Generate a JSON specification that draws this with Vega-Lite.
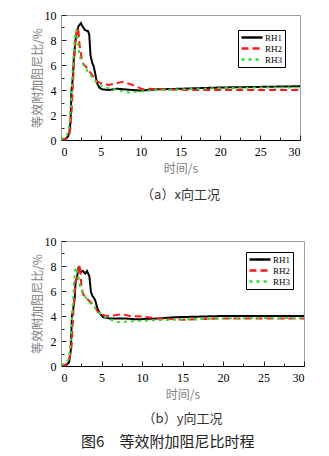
{
  "$schema": "https://vega.github.io/schema/vega-lite/v6.json",
  "padding": {"left": 30, "top": 8, "right": 4, "bottom": 8},
  "background": "white",
  "datasets": {
    "d": [
      {"dir":"x","s":"RH1","t":0,"v":0},{"dir":"x","s":"RH1","t":0.5,"v":0.05},{"dir":"x","s":"RH1","t":0.9,"v":0.3},{"dir":"x","s":"RH1","t":1.05,"v":0.6},{"dir":"x","s":"RH1","t":1.2,"v":1.5},{"dir":"x","s":"RH1","t":1.3,"v":3.8},{"dir":"x","s":"RH1","t":1.5,"v":5.1},{"dir":"x","s":"RH1","t":1.6,"v":6.4},{"dir":"x","s":"RH1","t":1.8,"v":7.9},{"dir":"x","s":"RH1","t":2.0,"v":8.7},{"dir":"x","s":"RH1","t":2.2,"v":9.1},{"dir":"x","s":"RH1","t":2.5,"v":9.35},{"dir":"x","s":"RH1","t":2.7,"v":9.1},{"dir":"x","s":"RH1","t":3.0,"v":8.8},{"dir":"x","s":"RH1","t":3.4,"v":8.7},{"dir":"x","s":"RH1","t":3.55,"v":8.4},{"dir":"x","s":"RH1","t":3.7,"v":6.8},{"dir":"x","s":"RH1","t":3.9,"v":6.2},{"dir":"x","s":"RH1","t":4.1,"v":5.9},{"dir":"x","s":"RH1","t":4.3,"v":5.3},{"dir":"x","s":"RH1","t":4.5,"v":4.6},{"dir":"x","s":"RH1","t":4.8,"v":4.2},{"dir":"x","s":"RH1","t":5.2,"v":4.05},{"dir":"x","s":"RH1","t":6,"v":4.0},{"dir":"x","s":"RH1","t":7,"v":4.1},{"dir":"x","s":"RH1","t":8,"v":4.05},{"dir":"x","s":"RH1","t":9,"v":4.0},{"dir":"x","s":"RH1","t":10,"v":3.95},{"dir":"x","s":"RH1","t":12,"v":4.05},{"dir":"x","s":"RH1","t":15,"v":4.1},{"dir":"x","s":"RH1","t":20,"v":4.2},{"dir":"x","s":"RH1","t":25,"v":4.25},{"dir":"x","s":"RH1","t":30,"v":4.3},

      {"dir":"x","s":"RH2","t":0,"v":0},{"dir":"x","s":"RH2","t":0.6,"v":0.05},{"dir":"x","s":"RH2","t":1.0,"v":0.4},{"dir":"x","s":"RH2","t":1.2,"v":1.0},{"dir":"x","s":"RH2","t":1.35,"v":2.5},{"dir":"x","s":"RH2","t":1.5,"v":4.5},{"dir":"x","s":"RH2","t":1.7,"v":7.0},{"dir":"x","s":"RH2","t":1.9,"v":8.4},{"dir":"x","s":"RH2","t":2.15,"v":9.0},{"dir":"x","s":"RH2","t":2.35,"v":7.5},{"dir":"x","s":"RH2","t":2.65,"v":6.3},{"dir":"x","s":"RH2","t":2.9,"v":6.0},{"dir":"x","s":"RH2","t":3.3,"v":5.75},{"dir":"x","s":"RH2","t":3.9,"v":5.2},{"dir":"x","s":"RH2","t":4.5,"v":4.7},{"dir":"x","s":"RH2","t":5.0,"v":4.55},{"dir":"x","s":"RH2","t":6.0,"v":4.4},{"dir":"x","s":"RH2","t":7.0,"v":4.55},{"dir":"x","s":"RH2","t":7.8,"v":4.65},{"dir":"x","s":"RH2","t":9.0,"v":4.4},{"dir":"x","s":"RH2","t":10.3,"v":4.05},{"dir":"x","s":"RH2","t":11,"v":4.1},{"dir":"x","s":"RH2","t":13,"v":4.05},{"dir":"x","s":"RH2","t":16,"v":4.0},{"dir":"x","s":"RH2","t":20,"v":4.0},{"dir":"x","s":"RH2","t":25,"v":4.0},{"dir":"x","s":"RH2","t":30,"v":4.0},

      {"dir":"x","s":"RH3","t":0,"v":0.1},{"dir":"x","s":"RH3","t":0.5,"v":0.2},{"dir":"x","s":"RH3","t":0.9,"v":0.6},{"dir":"x","s":"RH3","t":1.1,"v":1.5},{"dir":"x","s":"RH3","t":1.3,"v":3.5},{"dir":"x","s":"RH3","t":1.5,"v":6.0},{"dir":"x","s":"RH3","t":1.7,"v":8.0},{"dir":"x","s":"RH3","t":1.9,"v":8.8},{"dir":"x","s":"RH3","t":2.15,"v":7.75},{"dir":"x","s":"RH3","t":2.33,"v":6.7},{"dir":"x","s":"RH3","t":2.45,"v":6.5},{"dir":"x","s":"RH3","t":2.9,"v":5.9},{"dir":"x","s":"RH3","t":3.5,"v":5.35},{"dir":"x","s":"RH3","t":4.15,"v":4.8},{"dir":"x","s":"RH3","t":5.0,"v":4.35},{"dir":"x","s":"RH3","t":6.0,"v":4.15},{"dir":"x","s":"RH3","t":7.75,"v":3.9},{"dir":"x","s":"RH3","t":8.6,"v":3.8},{"dir":"x","s":"RH3","t":10.3,"v":3.9},{"dir":"x","s":"RH3","t":12,"v":4.0},{"dir":"x","s":"RH3","t":15,"v":4.05},{"dir":"x","s":"RH3","t":20,"v":4.15},{"dir":"x","s":"RH3","t":25,"v":4.2},{"dir":"x","s":"RH3","t":30,"v":4.2},

      {"dir":"y","s":"RH1","t":0,"v":0},{"dir":"y","s":"RH1","t":0.6,"v":0.05},{"dir":"y","s":"RH1","t":1.0,"v":0.3},{"dir":"y","s":"RH1","t":1.2,"v":1.2},{"dir":"y","s":"RH1","t":1.35,"v":4.0},{"dir":"y","s":"RH1","t":1.5,"v":4.5},{"dir":"y","s":"RH1","t":1.7,"v":5.5},{"dir":"y","s":"RH1","t":1.8,"v":6.8},{"dir":"y","s":"RH1","t":1.95,"v":7.0},{"dir":"y","s":"RH1","t":2.15,"v":7.8},{"dir":"y","s":"RH1","t":2.4,"v":7.5},{"dir":"y","s":"RH1","t":2.7,"v":7.6},{"dir":"y","s":"RH1","t":3.0,"v":7.4},{"dir":"y","s":"RH1","t":3.2,"v":7.6},{"dir":"y","s":"RH1","t":3.5,"v":7.2},{"dir":"y","s":"RH1","t":3.7,"v":5.9},{"dir":"y","s":"RH1","t":3.9,"v":5.6},{"dir":"y","s":"RH1","t":4.2,"v":5.3},{"dir":"y","s":"RH1","t":4.5,"v":4.6},{"dir":"y","s":"RH1","t":4.8,"v":4.2},{"dir":"y","s":"RH1","t":5.2,"v":3.9},{"dir":"y","s":"RH1","t":6,"v":3.8},{"dir":"y","s":"RH1","t":8,"v":3.8},{"dir":"y","s":"RH1","t":9,"v":3.75},{"dir":"y","s":"RH1","t":10,"v":3.75},{"dir":"y","s":"RH1","t":12,"v":3.8},{"dir":"y","s":"RH1","t":14,"v":3.9},{"dir":"y","s":"RH1","t":17,"v":3.95},{"dir":"y","s":"RH1","t":20,"v":4.0},{"dir":"y","s":"RH1","t":30,"v":4.0},

      {"dir":"y","s":"RH2","t":0,"v":0},{"dir":"y","s":"RH2","t":0.6,"v":0.1},{"dir":"y","s":"RH2","t":1.0,"v":0.5},{"dir":"y","s":"RH2","t":1.3,"v":1.5},{"dir":"y","s":"RH2","t":1.5,"v":4.0},{"dir":"y","s":"RH2","t":1.7,"v":6.0},{"dir":"y","s":"RH2","t":1.9,"v":7.0},{"dir":"y","s":"RH2","t":2.1,"v":7.3},{"dir":"y","s":"RH2","t":2.35,"v":8.1},{"dir":"y","s":"RH2","t":2.5,"v":6.5},{"dir":"y","s":"RH2","t":2.7,"v":5.8},{"dir":"y","s":"RH2","t":3.0,"v":5.5},{"dir":"y","s":"RH2","t":3.5,"v":5.2},{"dir":"y","s":"RH2","t":4.0,"v":4.9},{"dir":"y","s":"RH2","t":4.6,"v":4.3},{"dir":"y","s":"RH2","t":5.5,"v":4.0},{"dir":"y","s":"RH2","t":6.5,"v":4.05},{"dir":"y","s":"RH2","t":7.5,"v":4.15},{"dir":"y","s":"RH2","t":8.5,"v":4.0},{"dir":"y","s":"RH2","t":10,"v":3.95},{"dir":"y","s":"RH2","t":12,"v":3.8},{"dir":"y","s":"RH2","t":14,"v":3.75},{"dir":"y","s":"RH2","t":15,"v":3.7},{"dir":"y","s":"RH2","t":17,"v":3.75},{"dir":"y","s":"RH2","t":20,"v":3.8},{"dir":"y","s":"RH2","t":30,"v":3.8},

      {"dir":"y","s":"RH3","t":0,"v":0.1},{"dir":"y","s":"RH3","t":0.5,"v":0.2},{"dir":"y","s":"RH3","t":0.9,"v":0.5},{"dir":"y","s":"RH3","t":1.1,"v":1.2},{"dir":"y","s":"RH3","t":1.3,"v":3.0},{"dir":"y","s":"RH3","t":1.5,"v":5.5},{"dir":"y","s":"RH3","t":1.7,"v":7.5},{"dir":"y","s":"RH3","t":1.8,"v":7.9},{"dir":"y","s":"RH3","t":2.1,"v":7.3},{"dir":"y","s":"RH3","t":2.4,"v":6.2},{"dir":"y","s":"RH3","t":2.9,"v":5.6},{"dir":"y","s":"RH3","t":3.5,"v":5.1},{"dir":"y","s":"RH3","t":4.0,"v":4.8},{"dir":"y","s":"RH3","t":4.8,"v":4.2},{"dir":"y","s":"RH3","t":5.5,"v":3.9},{"dir":"y","s":"RH3","t":6,"v":3.75},{"dir":"y","s":"RH3","t":7,"v":3.5},{"dir":"y","s":"RH3","t":8,"v":3.55},{"dir":"y","s":"RH3","t":9.5,"v":3.6},{"dir":"y","s":"RH3","t":11,"v":3.65},{"dir":"y","s":"RH3","t":14,"v":3.7},{"dir":"y","s":"RH3","t":20,"v":3.8},{"dir":"y","s":"RH3","t":25,"v":3.85},{"dir":"y","s":"RH3","t":30,"v":3.85}
    ]
  },
  "title": {"text": "图6\u3000等效附加阻尼比时程", "orient": "bottom", "font": "Noto Sans CJK SC", "fontSize": 15, "fontWeight": "normal", "color": "#222", "offset": 8, "anchor": "middle"},
  "spacing": 31,
  "vconcat": [
    {
      "width": 239, "height": 125,
      "title": {"text": "（a）x向工况", "orient": "bottom", "font": "Noto Sans CJK SC", "fontSize": 13, "fontWeight": "normal", "color": "#333", "offset": 15, "anchor": "middle"},
      "data": {"name": "d"},
      "transform": [{"filter": "datum.dir === 'x'"}],
      "mark": {"type": "line", "strokeWidth": 2, "clip": true},
      "encoding": {
        "x": {"field": "t", "type": "quantitative", "scale": {"domain": [0, 30], "nice": false},
          "axis": {"title": "时间/s", "values": [0,2.5,5,7.5,10,12.5,15,17.5,20,22.5,25,27.5,30], "labelExpr": "datum.value % 5 === 0 ? datum.label : ''",
            "tickSize": {"condition": {"test": "datum.value % 5 !== 0", "value": -3}, "value": -5}}},
        "y": {"field": "v", "type": "quantitative", "scale": {"domain": [0, 10], "nice": false},
          "axis": {"title": "等效附加阻尼比/%", "values": [0,1,2,3,4,5,6,7,8,9,10], "labelExpr": "datum.value % 2 === 0 ? datum.label : ''",
            "tickSize": {"condition": {"test": "datum.value % 2 !== 0", "value": -3}, "value": -5}, "domainColor": "#999"}},
        "color": {"field": "s", "type": "nominal", "scale": {"domain": ["RH1","RH2","RH3"], "range": ["#000000","#ff1a1a","#2de02d"]},
          "legend": {"orient": "top-right", "offset": 15}},
        "strokeDash": {"field": "s", "type": "nominal", "scale": {"domain": ["RH1","RH2","RH3"], "range": [[1,0],[7,4],[3,4]]},
          "legend": {"orient": "top-right", "offset": 15}},
        "order": {"field": "t", "type": "quantitative"}
      }
    },
    {
      "width": 243, "height": 125,
      "title": {"text": "（b）y向工况", "orient": "bottom", "font": "Noto Sans CJK SC", "fontSize": 13, "fontWeight": "normal", "color": "#333", "offset": 13, "anchor": "middle"},
      "data": {"name": "d"},
      "transform": [{"filter": "datum.dir === 'y'"}],
      "mark": {"type": "line", "strokeWidth": 2, "clip": true},
      "encoding": {
        "x": {"field": "t", "type": "quantitative", "scale": {"domain": [0, 30], "nice": false},
          "axis": {"title": "时间/s", "values": [0,2.5,5,7.5,10,12.5,15,17.5,20,22.5,25,27.5,30], "labelExpr": "datum.value % 5 === 0 ? datum.label : ''",
            "tickSize": {"condition": {"test": "datum.value % 5 !== 0", "value": -3}, "value": -5}}},
        "y": {"field": "v", "type": "quantitative", "scale": {"domain": [0, 10], "nice": false},
          "axis": {"title": "等效附加阻尼比/%", "values": [0,1,2,3,4,5,6,7,8,9,10], "labelExpr": "datum.value % 2 === 0 ? datum.label : ''",
            "tickSize": {"condition": {"test": "datum.value % 2 !== 0", "value": -3}, "value": -5}, "domainColor": "#999"}},
        "color": {"field": "s", "type": "nominal", "scale": {"domain": ["RH1","RH2","RH3"], "range": ["#000000","#ff1a1a","#2de02d"]},
          "legend": {"orient": "top-right", "offset": 11}},
        "strokeDash": {"field": "s", "type": "nominal", "scale": {"domain": ["RH1","RH2","RH3"], "range": [[1,0],[7,4],[3,4]]},
          "legend": {"orient": "top-right", "offset": 11}},
        "order": {"field": "t", "type": "quantitative"}
      }
    }
  ],
  "resolve": {"scale": {"color": "independent", "strokeDash": "independent"}},
  "config": {
    "view": {"stroke": "#a0a0a0", "strokeWidth": 1},
    "axis": {
      "grid": false, "domainColor": "#000", "tickColor": "#222", "tickWidth": 1,
      "labelFont": "Liberation Serif", "labelFontSize": 12, "labelColor": "#000", "labelPadding": 10,
      "titleFont": "Noto Sans CJK SC", "titleFontSize": 12, "titleFontWeight": "normal", "titleColor": "#808080"
    },
    "axisX": {"titlePadding": 6, "labelPadding": 11},
    "axisY": {"titlePadding": 0},
    "legend": {
      "title": null, "strokeColor": "#000", "fillColor": "#fff", "padding": 2, "cornerRadius": 0,
      "symbolType": "stroke", "symbolSize": 441, "symbolStrokeWidth": 2.5, "clipHeight": 11,
      "labelFont": "Liberation Serif", "labelFontSize": 9, "labelColor": "#000", "rowPadding": 0, "labelOffset": 1
    }
  }
}
